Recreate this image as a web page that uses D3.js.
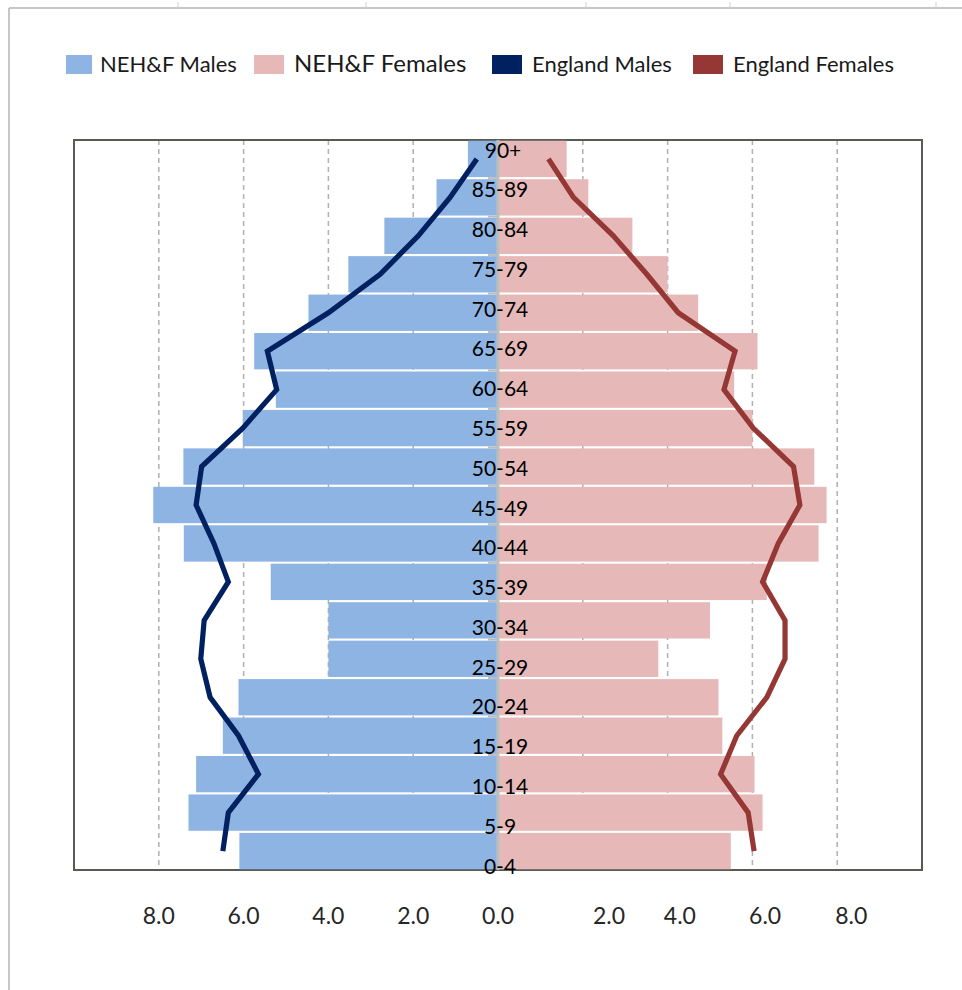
<!DOCTYPE html>
<html>
<head>
<meta charset="utf-8">
<script src="https://cdn.jsdelivr.net/npm/d3@7/dist/d3.min.js"></script>
<style>
  html, body { margin: 0; padding: 0; background: #fff; }
  svg { display: block; }
  text { font-family: Lato, "Open Sans", "Liberation Sans", sans-serif; }
</style>
</head>
<body>
<svg id="chart" width="962" height="990"></svg>
<script>
// ---- data (percent of population) ----
const ageGroups = ["0-4","5-9","10-14","15-19","20-24","25-29","30-34","35-39","40-44","45-49","50-54","55-59","60-64","65-69","70-74","75-79","80-84","85-89","90+"];
const nehfMales   = [6.10, 7.30, 7.12, 6.49, 6.12, 4.00, 4.00, 5.36, 7.41, 8.13, 7.42, 6.02, 5.24, 5.75, 4.47, 3.53, 2.68, 1.45, 0.71];
const nehfFemales = [5.49, 6.24, 6.05, 5.29, 5.20, 3.78, 5.00, 6.34, 7.56, 7.75, 7.46, 6.00, 5.57, 6.12, 4.72, 4.00, 3.17, 2.13, 1.62];
const englandMales   = [6.49, 6.36, 5.65, 6.12, 6.79, 7.01, 6.93, 6.36, 6.70, 7.12, 6.99, 6.02, 5.22, 5.44, 4.00, 2.78, 1.88, 1.13, 0.50];
const englandFemales = [6.04, 5.90, 5.25, 5.63, 6.34, 6.77, 6.77, 6.24, 6.61, 7.12, 6.97, 6.02, 5.33, 5.59, 4.25, 3.51, 2.72, 1.78, 1.19];
const gridValues = [-8, -6, -4, -2, 2, 4, 6, 8];
const tickLabels = ["8.0","6.0","4.0","2.0","0.0","2.0","4.0","6.0","8.0"];
const tickLabelPos = [-8, -6, -4, -2, 0, 2.62, 4.29, 6.30, 8.33];
const legendItems = [
  {name: "NEH&F Males", color: "#8EB4E3", size: 22},
  {name: "NEH&F Females", color: "#E6B9B8", size: 24},
  {name: "England Males", color: "#002060", size: 22},
  {name: "England Females", color: "#953735", size: 22}
];

// ---- layout ----
const plot = {left: 74, right: 922, top: 140, bottom: 870};
const svg = d3.select("#chart");

const x = d3.scaleLinear().domain([-10, 10]).range([plot.left, plot.right]);
const y = d3.scaleBand().domain(ageGroups.slice().reverse()).range([plot.top, plot.bottom]).paddingInner(0.055).paddingOuter(0.02);
const yLabel = d3.scalePoint().domain(ageGroups).range([866, 150]);

// sheet frame
svg.append("line").attr("x1", 9).attr("x2", 962).attr("y1", 8).attr("y2", 8).attr("stroke", "#b4b4b4").attr("stroke-width", 1.5);
svg.append("line").attr("x1", 9).attr("x2", 9).attr("y1", 8).attr("y2", 990).attr("stroke", "#b4b4b4").attr("stroke-width", 1.5);
[178, 366, 586, 730, 936].forEach(v => {
  svg.append("line").attr("x1", v).attr("x2", v).attr("y1", 2).attr("y2", 8).attr("stroke", "#cfcfcf").attr("stroke-width", 1);
});

// gridlines
svg.append("g").selectAll("line").data(gridValues).join("line")
  .attr("x1", d => x(d)).attr("x2", d => x(d))
  .attr("y1", plot.top).attr("y2", plot.bottom)
  .attr("stroke", "#b0b0b0").attr("stroke-width", 1.5).attr("stroke-dasharray", "5,4");

// plot border
svg.append("rect").attr("x", plot.left).attr("y", plot.top)
  .attr("width", plot.right - plot.left).attr("height", plot.bottom - plot.top)
  .attr("fill", "none").attr("stroke", "#5a5a55").attr("stroke-width", 2);

// bars
const bars = svg.append("g");
bars.selectAll("rect.m").data(ageGroups).join("rect").attr("class", "m")
  .attr("x", (d, i) => x(-nehfMales[i])).attr("width", (d, i) => x(0) - x(-nehfMales[i]))
  .attr("y", d => y(d)).attr("height", y.bandwidth()).attr("fill", "#8EB4E3");
bars.selectAll("rect.f").data(ageGroups).join("rect").attr("class", "f")
  .attr("x", x(0)).attr("width", (d, i) => x(nehfFemales[i]) - x(0))
  .attr("y", d => y(d)).attr("height", y.bandwidth()).attr("fill", "#E6B9B8");

// vertical category axis
const step = y.step();
svg.append("line").attr("x1", x(0)).attr("x2", x(0)).attr("y1", plot.top).attr("y2", plot.bottom)
  .attr("stroke", "#bdbdbd").attr("stroke-width", 3);
svg.append("g").selectAll("line").data(ageGroups.slice(1)).join("line")
  .attr("x1", x(0) - 10).attr("x2", x(0))
  .attr("y1", d => y(d) + y.bandwidth() + (step - y.bandwidth()) / 2)
  .attr("y2", d => y(d) + y.bandwidth() + (step - y.bandwidth()) / 2)
  .attr("stroke", "#bdbdbd").attr("stroke-width", 2);

// England lines
const line = (vals, sign) => d3.line()
  .x((d, i) => x(sign * vals[i]))
  .y(d => y(d) + y.bandwidth() / 2)(ageGroups);
svg.append("path").attr("d", line(englandMales, -1)).attr("fill", "none")
  .attr("stroke", "#002060").attr("stroke-width", 5.2).attr("stroke-linejoin", "miter").attr("stroke-linecap", "butt");
svg.append("path").attr("d", line(englandFemales, 1)).attr("fill", "none")
  .attr("stroke", "#953735").attr("stroke-width", 5.2).attr("stroke-linejoin", "miter").attr("stroke-linecap", "butt");

// age labels
svg.append("g").selectAll("text").data(ageGroups).join("text")
  .attr("x", d => d === "90+" ? 503 : 500)
  .attr("y", d => yLabel(d))
  .attr("dy", "0.36em")
  .attr("text-anchor", "middle")
  .attr("font-size", 21)
  .attr("fill", "#000")
  .text(d => d);

// bottom tick labels
svg.append("g").selectAll("text").data(tickLabels).join("text")
  .attr("x", (d, i) => x(tickLabelPos[i]))
  .attr("y", 924)
  .attr("text-anchor", "middle")
  .attr("font-size", 23)
  .attr("fill", "#262626")
  .text(d => d);

// legend
const legendX = [66, 254, 492, 693];
const keyW = [26, 30, 30, 30];
const textX = [100, 294, 532, 733];
const lg = svg.append("g");
legendItems.forEach((it, i) => {
  lg.append("rect").attr("x", legendX[i]).attr("y", 55).attr("width", keyW[i]).attr("height", 19).attr("fill", it.color);
  lg.append("text").attr("x", textX[i]).attr("y", 72).attr("font-size", it.size).attr("fill", "#1a1a1a").text(it.name);
});
</script>
</body>
</html>
